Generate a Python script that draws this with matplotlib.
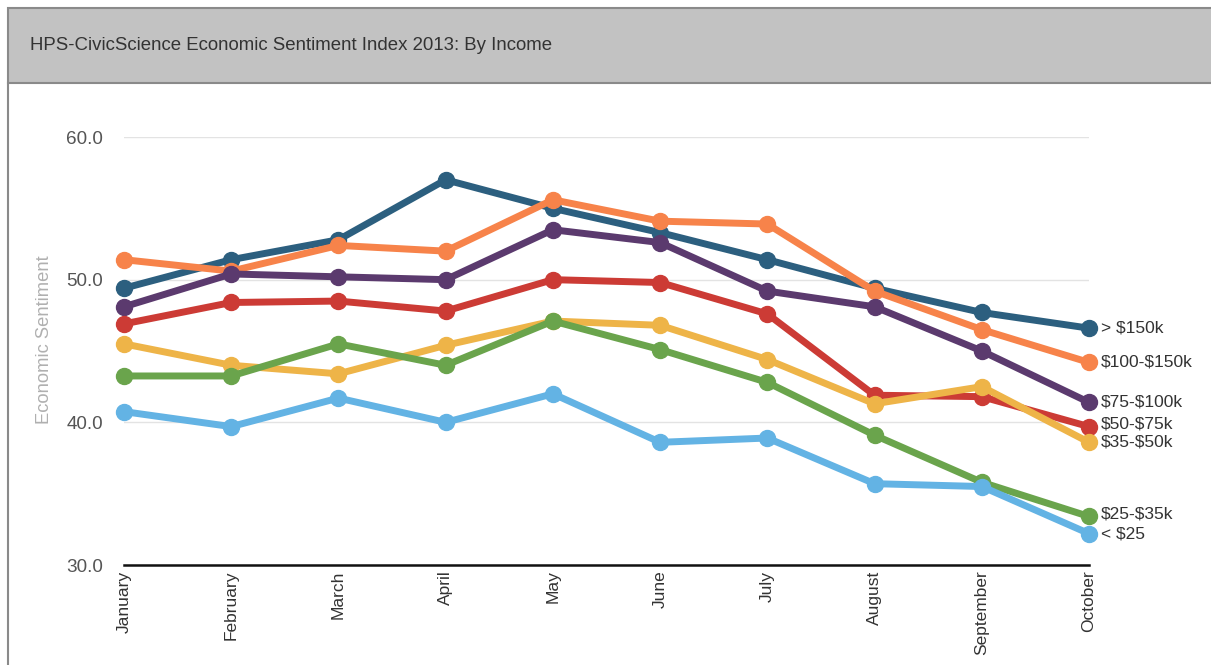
import matplotlib
matplotlib.use("Agg")
import matplotlib.pyplot as plt
from matplotlib.patches import Rectangle
from matplotlib.lines import Line2D

plt.rcParams["text.parse_math"] = False

months = ["January", "February", "March", "April", "May", "June", "July",
          "August", "September", "October"]

series_names = ["> $150k", "$100-$150k", "$75-$100k", "$50-$75k",
                "$35-$50k", "$25-$35k", "< $25"]

gt150 = [49.4, 51.4, 52.8, 57.0, 55.0, 53.3, 51.4, 49.4, 47.7, 46.6]
k100_150 = [51.4, 50.6, 52.4, 52.0, 55.6, 54.1, 53.9, 49.2, 46.5, 44.2]
k75_100 = [48.1, 50.4, 50.2, 50.0, 53.5, 52.6, 49.2, 48.1, 45.0, 41.4]
k50_75 = [46.9, 48.4, 48.5, 47.8, 50.0, 49.8, 47.6, 41.9, 41.8, 39.7]
k35_50 = [45.5, 44.0, 43.4, 45.4, 47.1, 46.8, 44.4, 41.3, 42.5, 38.6]
k25_35 = [43.25, 43.25, 45.5, 44.0, 47.1, 45.1, 42.8, 39.1, 35.8, 33.4]
lt25 = [40.75, 39.7, 41.7, 40.0, 42.0, 38.6, 38.9, 35.7, 35.5, 32.2]

all_series = [gt150, k100_150, k75_100, k50_75, k35_50, k25_35, lt25]
colors = ["#2c5f7f", "#f7834a", "#5b3a6e", "#cc3b35", "#eeb448", "#6aa44c", "#63b3e4"]
label_offsets = [0, 0, 0, 3, 0, 2, 0]  # pixel nudges for the end labels

yticks = [30, 40, 50, 60]
ytick_labels = ["30.0", "40.0", "50.0", "60.0"]

W, H = 1211, 665
fig = plt.figure(figsize=(W / 100, H / 100), dpi=100)
fig.patch.set_facecolor("white")

# header band and panel border
fig.patches.append(Rectangle((8 / W, 1 - 83 / H), (W - 8) / W + 0.01, 75 / H,
                             transform=fig.transFigure, facecolor="#c2c2c2",
                             edgecolor="#8a8a8a", linewidth=1.5, zorder=0))
fig.lines.append(Line2D([8 / W, 8 / W], [0, 1 - 83 / H], transform=fig.transFigure,
                        color="#8a8a8a", linewidth=1.5))
fig.text(30 / W, 1 - 46 / H, "HPS-CivicScience Economic Sentiment Index 2013: By Income",
         fontsize=13.4, family="Liberation Sans", color="#333333",
         ha="left", va="center")

ax = fig.add_axes([124 / W, 1 - 565 / H, (1089 - 124) / W, (565 - 137) / H])
x = list(range(len(months)))

for vals, c, name, off in zip(all_series, colors, series_names, label_offsets):
    ax.plot(x, vals, color=c, linewidth=5, marker="o", markersize=11.5,
            solid_capstyle="round", clip_on=False, zorder=3)
    ax.annotate(name, (x[-1], vals[-1]), xytext=(12, off), textcoords="offset pixels",
                fontsize=12.5, family="Liberation Sans", color="#333333",
                ha="left", va="center", annotation_clip=False)

ax.set_xlim(0, len(months) - 1)
ax.set_ylim(30, 60)
ax.set_yticks(yticks)
ax.set_yticklabels(ytick_labels, fontsize=13.6, family="Liberation Sans", color="#555555")
ax.set_xticks(x)
ax.set_xticklabels(months, rotation=90, fontsize=12.5, family="Liberation Sans",
                   color="#333333", ha="center", va="top")
ax.tick_params(axis="both", length=0)
ax.tick_params(axis="y", pad=15)
ax.tick_params(axis="x", pad=4)

for sp in ["left", "right", "top"]:
    ax.spines[sp].set_visible(False)
ax.spines["bottom"].set_color("#111111")
ax.spines["bottom"].set_linewidth(1.8)
ax.grid(axis="y", color="#e3e3e3", linewidth=1)
ax.set_axisbelow(True)

fig.text(45 / W, 1 - 340 / H, "Economic Sentiment", rotation=90, fontsize=13.2,
         family="Liberation Sans", color="#b0b0b0", ha="center", va="center")

fig.savefig("out.png", dpi=100)
